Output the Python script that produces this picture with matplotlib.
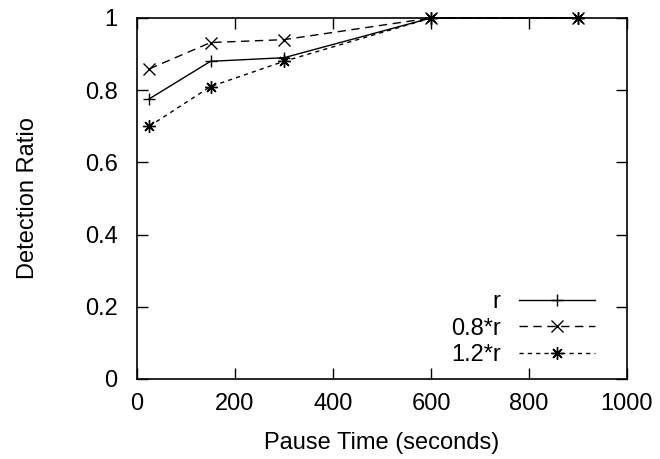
import matplotlib
matplotlib.use("Agg")
import matplotlib.pyplot as plt

plt.rcParams['font.family'] = ['Liberation Sans', 'DejaVu Sans']

pause_time = [25, 150, 300, 600, 900]
r_vals = [0.776, 0.880, 0.890, 1.0, 1.0]
r08_vals = [0.859, 0.932, 0.940, 1.0, 1.0]
r12_vals = [0.700, 0.810, 0.880, 1.0, 1.0]
labels = ["r", "0.8*r", "1.2*r"]
xticks = [0, 200, 400, 600, 800, 1000]
yticks = [0, 0.2, 0.4, 0.6, 0.8, 1.0]
ytick_labels = ["0", "0.2", "0.4", "0.6", "0.8", "1"]

FS = 17

fig = plt.figure(figsize=(6.6, 4.59), dpi=100)
ax = fig.add_axes([0.2076, 0.1743, 0.7424, 0.7865])

ax.plot(pause_time, r_vals, color='black', lw=1, marker='+', ms=8, mew=1, label=labels[0], clip_on=False)
ax.plot(pause_time, r08_vals, color='black', lw=1, marker='x', ms=8, mew=1, dashes=(6, 4), label=labels[1], clip_on=False)
ax.plot(pause_time, r12_vals, color='black', lw=1, marker=(8, 2, 0), ms=9, mew=1, dashes=(3, 3), label=labels[2], clip_on=False)

ax.set_xlim(0, 1000)
ax.set_ylim(0, 1)
ax.set_xticks(xticks)
ax.set_yticks(yticks)
ax.set_yticklabels(ytick_labels)
ax.tick_params(direction='in', length=8, width=1, top=True, right=True, labelsize=FS)
ax.tick_params(axis='x', pad=10)
ax.tick_params(axis='y', pad=14)
for s in ax.spines.values():
    s.set_linewidth(1.2)
ax.set_xlabel("Pause Time (seconds)", fontsize=FS, labelpad=12)
ax.set_ylabel("Detection Ratio", fontsize=FS, labelpad=33)

leg = ax.legend(loc='lower right', bbox_to_anchor=(0.954, 0.009), borderaxespad=0,
                frameon=False, markerfirst=False, fontsize=FS,
                handlelength=3.2, labelspacing=0.2, handletextpad=0.8)
for t in leg.get_texts():
    t.set_ha('right')

fig.savefig("out.png", dpi=100)
